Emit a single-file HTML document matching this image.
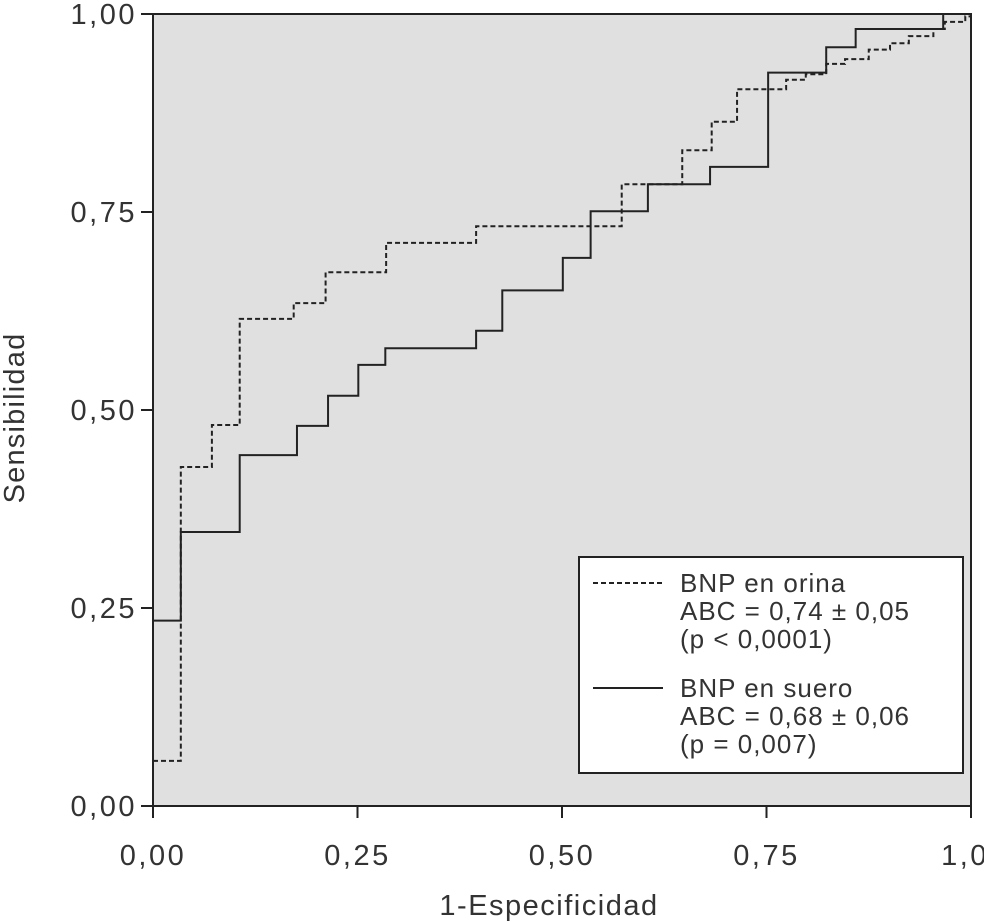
<!DOCTYPE html>
<html><head><meta charset="utf-8"><style>
body{margin:0;background:#fff;}
svg{display:block;font-family:"Liberation Sans",sans-serif;}
</style></head><body>
<svg id="c" width="984" height="922"></svg>
<script>
const xTicks=[0,0.25,0.5,0.75,1];
const xTickLabels=["0,00","0,25","0,50","0,75","1,0"];
const yTicks=[0,0.25,0.5,0.75,1];
const yTickLabels=["0,00","0,25","0,50","0,75","1,00"];
const urineX=[0,0.034,0.072,0.106,0.172,0.211,0.285,0.395,0.573,0.647,0.683,0.714,0.774,0.798,0.823,0.846,0.875,0.901,0.924,0.954,0.968,0.993,1];
const urineY=[0.057,0.428,0.481,0.615,0.635,0.674,0.711,0.732,0.785,0.828,0.864,0.905,0.917,0.924,0.937,0.943,0.955,0.963,0.972,0.981,0.990,0.997,1];
const serumX=[0,0.034,0.106,0.176,0.214,0.251,0.284,0.395,0.427,0.501,0.535,0.605,0.681,0.752,0.823,0.859,0.966,1];
const serumY=[0.234,0.346,0.443,0.480,0.518,0.557,0.578,0.600,0.651,0.692,0.751,0.785,0.807,0.926,0.958,0.981,1,1];
const L=153,R=971,T=14,B=806;
const sx=v=>L+v*(R-L), sy=v=>B-v*(B-T);
const svg=document.getElementById('c');
const NS='http://www.w3.org/2000/svg';
function mk(t,a,p){const e=document.createElementNS(NS,t);for(const k in a)e.setAttribute(k,a[k]);(p||svg).appendChild(e);return e;}
const bg=mk('rect',{x:L,y:T,width:R-L,height:B-T,fill:'#e0e0e0',stroke:'#222','stroke-width':2});


xTicks.forEach((v,i)=>{
 const t=mk('line',{x1:sx(v),x2:sx(v),y1:B,y2:B+12,stroke:'#222','stroke-width':2});
 
 
 const tx=mk('text',{x:sx(v)+(i==4?-6:0),y:865,'text-anchor':'middle','font-size':29,'letter-spacing':2.5,fill:'#333'});
 tx.textContent=xTickLabels[i];
 
 
});
yTicks.forEach((v,i)=>{
 const t=mk('line',{x1:L-12,x2:L,y1:sy(v),y2:sy(v),stroke:'#222','stroke-width':2});
 
 
 const tx=mk('text',{x:137,y:sy(v)+10,'text-anchor':'end','font-size':29,'letter-spacing':2.5,fill:'#333'});
 tx.textContent=yTickLabels[i];
 
 
});
function step(xs,ys){let d='M'+sx(xs[0])+','+sy(ys[0]);for(let i=1;i<xs.length;i++){d+=' H'+sx(xs[i])+' V'+sy(ys[i]);}return d;}
const pu=mk('path',{d:step(urineX,urineY),fill:'none',stroke:'#222','stroke-width':2,'stroke-dasharray':'5,3'});


const ps=mk('path',{d:step(serumX,serumY),fill:'none',stroke:'#222','stroke-width':2});


</script>
<script>
(function(){
const svg=document.getElementById('c');const NS='http://www.w3.org/2000/svg';
function mk(t,a){const e=document.createElementNS(NS,t);for(const k in a)e.setAttribute(k,a[k]);svg.appendChild(e);return e;}
const lb=mk('rect',{x:579,y:557,width:384,height:216,fill:'#fff',stroke:'#222','stroke-width':2});


const l1=mk('line',{x1:593,x2:663,y1:583,y2:583,stroke:'#222','stroke-width':2,'stroke-dasharray':'5,3'});


const l2=mk('line',{x1:593,x2:663,y1:688,y2:688,stroke:'#222','stroke-width':2});


const lines=[["BNP en orina",592],["ABC = 0,74 ± 0,05",620],["(p < 0,0001)",648],["BNP en suero",697],["ABC = 0,68 ± 0,06",725],["(p = 0,007)",753]];
lines.forEach(([s,y])=>{const t=mk('text',{x:680,y:y,'font-size':26,'letter-spacing':1,fill:'#333'});t.textContent=s;

});
const xt=mk('text',{x:549,y:915,'text-anchor':'middle','font-size':29,'letter-spacing':1.5,fill:'#333'});xt.textContent='1-Especificidad';


const yt=mk('text',{x:0,y:0,'text-anchor':'middle','font-size':29,'letter-spacing':1.2,fill:'#333',transform:'translate(24,418) rotate(-90)'});yt.textContent='Sensibilidad';


})();
</script>
</body></html>
